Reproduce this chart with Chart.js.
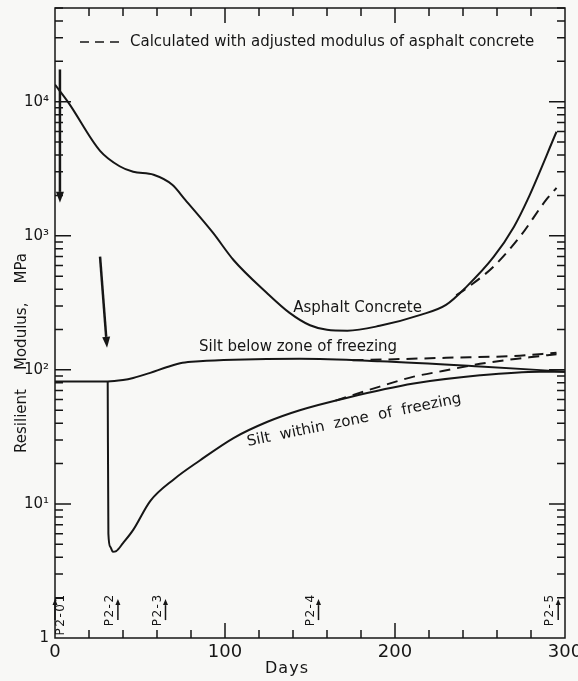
<!DOCTYPE html>
<html>
<head>
<meta charset="utf-8">
<script src="https://cdn.jsdelivr.net/npm/chart.js@4/dist/chart.umd.min.js"></script>
<style>
  html, body { margin: 0; padding: 0; background: #f8f8f6; }
  canvas { display: block; }
</style>
</head>
<body>
<canvas id="c" width="578" height="681"></canvas>
<script>
// values (days, resilient modulus in MPa)
const asphaltDays = [0, 8, 26.5, 38, 46, 58, 69, 76.5, 93, 105, 124.5, 138, 150, 160, 172, 191, 215, 230, 242, 258, 270, 278, 295];
const asphaltMod  = [13400, 9800, 4300, 3300, 3000, 2850, 2400, 1860, 1050, 660, 376, 266, 215, 199, 196, 213, 257, 305, 416, 695, 1170, 1860, 5970];
const asphaltAdjDays = [236, 242, 258, 273.5, 289, 295];
const asphaltAdjMod  = [360, 405, 590, 985, 1860, 2280];

const siltBelowDays = [0, 31, 40, 46, 56, 66, 75, 85, 105, 144, 191, 250, 300];
const siltBelowMod  = [82, 82, 84, 87, 95, 105, 113, 116, 119, 121, 116, 106, 97];
const siltBelowAdjDays = [175, 200, 230, 270, 295];
const siltBelowAdjMod  = [118, 120, 123, 127, 134];

const siltWithinDays = [31, 31.4, 32.5, 34, 36, 40, 46, 56, 70, 85, 105, 125, 144, 172, 211, 250, 285, 300];
const siltWithinMod  = [82, 6.0, 4.8, 4.4, 4.45, 5.1, 6.4, 10.5, 15.3, 21, 31, 41, 50, 62, 79, 91, 97, 97];
const siltWithinAdjDays = [165, 191, 211, 228, 250, 279, 295];
const siltWithinAdjMod  = [59, 75, 89, 98, 111, 124, 131];

const xTicks = [0, 100, 200, 300];
const yTicks = [1, 10, 100, 1000, 10000];
const yTickLabels = ['1', '10¹', '10²', '10³', '10⁴'];

const eventDays  = [0, 37, 65, 155, 296];
const eventNames = ['P2-01', 'P2-2', 'P2-3', 'P2-4', 'P2-5'];

// freezing arrows: [dayFrom, modFrom, dayTo, modTo]
const freezeArrows = [[2.9, 17400, 2.9, 1760], [26.5, 700, 30.6, 146]];

const ink = '#161616';
const font = '"DejaVu Sans", sans-serif';

const pts = (xs, ys) => xs.map((d, i) => ({ x: d, y: ys[i] }));

function curve(xs, ys, dashed) {
  return {
    data: pts(xs, ys),
    borderColor: ink,
    borderWidth: 2,
    borderDash: dashed ? [11, 7] : [],
    pointRadius: 0,
    fill: false,
    cubicInterpolationMode: 'monotone'
  };
}

function arrow(ctx, x1, y1, x2, y2, head, half) {
  const a = Math.atan2(y2 - y1, x2 - x1);
  const bx = x2 - head * Math.cos(a), by = y2 - head * Math.sin(a);
  ctx.beginPath(); ctx.moveTo(x1, y1); ctx.lineTo(bx, by); ctx.stroke();
  ctx.beginPath();
  ctx.moveTo(x2, y2);
  ctx.lineTo(bx + half * Math.sin(a), by - half * Math.cos(a));
  ctx.lineTo(bx - half * Math.sin(a), by + half * Math.cos(a));
  ctx.closePath(); ctx.fill();
}

const overlay = {
  id: 'overlay',
  beforeDraw(chart) {
    const ctx = chart.ctx;
    ctx.save();
    ctx.fillStyle = '#f8f8f6';
    ctx.fillRect(0, 0, chart.width, chart.height);
    ctx.restore();
  },
  afterDatasetsDraw(chart) {
    const { ctx, chartArea: a, scales: { x, y } } = chart;
    ctx.save();
    ctx.strokeStyle = ink;
    ctx.fillStyle = ink;
    ctx.lineWidth = 1.5;
    ctx.strokeRect(a.left, a.top, a.right - a.left, a.bottom - a.top);

    // inward ticks, every 20 days top and bottom
    ctx.beginPath();
    for (let d = 20; d < 300; d += 20) {
      const px = x.getPixelForValue(d);
      const len = d % 100 === 0 ? 15 : 8;
      ctx.moveTo(px, a.bottom); ctx.lineTo(px, a.bottom - len);
      ctx.moveTo(px, a.top); ctx.lineTo(px, a.top + len);
    }
    // log ticks left and right
    for (let e = 0; e <= 4; e++) {
      for (let m = 1; m <= 9; m++) {
        const v = m * Math.pow(10, e);
        if (v > 50000 || v === 1) continue;
        const py = y.getPixelForValue(v);
        const len = m === 1 ? 16 : 8;
        ctx.moveTo(a.left, py); ctx.lineTo(a.left + len, py);
        ctx.moveTo(a.right, py); ctx.lineTo(a.right - len, py);
      }
    }
    ctx.stroke();

    // freezing arrows
    ctx.lineWidth = 2.5;
    freezeArrows.forEach(f => {
      arrow(ctx, x.getPixelForValue(f[0]), y.getPixelForValue(f[1]),
        x.getPixelForValue(f[2]), y.getPixelForValue(f[3]), 11, 4);
    });

    // sampling events along the bottom
    ctx.lineWidth = 1.5;
    ctx.font = '12px ' + font;
    ctx.letterSpacing = '1.5px';
    ctx.textBaseline = 'middle';
    ctx.textAlign = 'right';
    eventDays.forEach((d, i) => {
      const px = x.getPixelForValue(d);
      arrow(ctx, px, y.getPixelForValue(1.36), px, y.getPixelForValue(1.95), 6, 2.5);
      const tx = d === 0 ? px + 6 : px - 8;
      ctx.save();
      ctx.translate(tx, y.getPixelForValue(2.15));
      ctx.rotate(-Math.PI / 2);
      ctx.fillText(eventNames[i], 0, 0);
      ctx.restore();
    });
    ctx.letterSpacing = '0px';

    // legend line
    ctx.font = '15px ' + font;
    ctx.textAlign = 'left';
    ctx.lineWidth = 1.5;
    ctx.setLineDash([9, 6]);
    ctx.beginPath();
    ctx.moveTo(a.left + 25, a.top + 34); ctx.lineTo(a.left + 66, a.top + 34);
    ctx.stroke();
    ctx.setLineDash([]);
    ctx.fillText('Calculated with adjusted modulus of asphalt concrete', a.left + 75, a.top + 34);

    // curve labels
    ctx.textAlign = 'center';
    ctx.fillText('Asphalt Concrete', x.getPixelForValue(178), y.getPixelForValue(290));
    ctx.fillText('Silt below zone of freezing', x.getPixelForValue(143), y.getPixelForValue(148));
    ctx.save();
    ctx.translate(x.getPixelForValue(176), y.getPixelForValue(42));
    ctx.rotate(-11.5 * Math.PI / 180);
    ctx.fillText('Silt  within  zone  of  freezing', 0, 0);
    ctx.restore();

    // axis titles
    ctx.font = '15px ' + font;
    ctx.save();
    ctx.translate(22, a.top + 345);
    ctx.rotate(-Math.PI / 2);
    ctx.fillText('Resilient    Modulus,    MPa', 0, 0);
    ctx.restore();
    ctx.font = '16px ' + font;
    ctx.letterSpacing = '1px';
    ctx.fillText('Days', a.left + 232, chart.height - 12);
    ctx.restore();
  }
};

new Chart(document.getElementById('c'), {
  type: 'line',
  data: {
    datasets: [
      curve(asphaltDays, asphaltMod, false),
      curve(asphaltAdjDays, asphaltAdjMod, true),
      curve(siltBelowDays, siltBelowMod, false),
      curve(siltBelowAdjDays, siltBelowAdjMod, true),
      curve(siltWithinDays, siltWithinMod, false),
      curve(siltWithinAdjDays, siltWithinAdjMod, true)
    ]
  },
  options: {
    responsive: false,
    animation: false,
    devicePixelRatio: 1,
    layout: { padding: { top: 8, right: 13, left: 0, bottom: 0 } },
    plugins: { legend: { display: false }, tooltip: { enabled: false } },
    scales: {
      x: {
        type: 'linear',
        min: 0,
        max: 300,
        grid: { display: false, drawTicks: false },
        border: { display: false },
        afterBuildTicks: s => { s.ticks = xTicks.map(v => ({ value: v })); },
        afterFit: s => { s.height = 43; s.paddingLeft = 0; s.paddingRight = 0; },
        ticks: { color: ink, padding: 4, maxRotation: 0, font: { family: font, size: 18 } }
      },
      y: {
        type: 'logarithmic',
        min: 1,
        max: 50000,
        grid: { display: false, drawTicks: false },
        border: { display: false },
        afterBuildTicks: s => { s.ticks = yTicks.map(v => ({ value: v })); },
        afterFit: s => { s.width = 55; s.paddingTop = 0; s.paddingBottom = 0; },
        ticks: {
          color: ink,
          padding: 6,
          font: { family: font, size: 15 },
          callback: v => { const i = yTicks.indexOf(v); return i >= 0 ? yTickLabels[i] : ''; }
        }
      }
    }
  },
  plugins: [overlay]
});
</script>
</body>
</html>
